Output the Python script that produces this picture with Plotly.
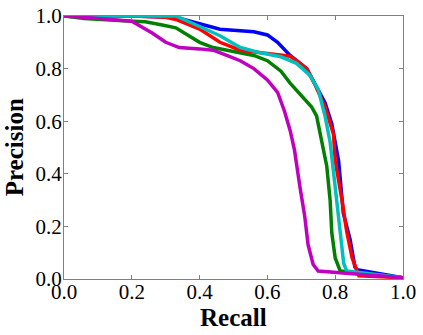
import plotly.graph_objects as go

# precision-recall curves
blue_recall = [0.0, 0.2, 0.33, 0.4, 0.46, 0.56, 0.6, 0.63, 0.667, 0.716, 0.745, 0.77, 0.79, 0.81, 0.824, 0.844, 0.858, 0.865, 1.0]
blue_prec = [1.0, 1.0, 0.995, 0.97, 0.95, 0.94, 0.928, 0.90, 0.85, 0.80, 0.73, 0.67, 0.59, 0.45, 0.25, 0.15, 0.046, 0.035, 0.005]

green_recall = [0.0, 0.06, 0.2, 0.24, 0.29, 0.33, 0.4, 0.44, 0.5, 0.56, 0.6, 0.64, 0.667, 0.696, 0.73, 0.745, 0.76, 0.775, 0.785, 0.79, 0.8, 0.815, 1.0]
green_prec = [1.0, 0.99, 0.98, 0.978, 0.966, 0.955, 0.90, 0.88, 0.865, 0.85, 0.83, 0.79, 0.745, 0.705, 0.655, 0.62, 0.53, 0.43, 0.30, 0.175, 0.08, 0.03, 0.005]

red_recall = [0.0, 0.2, 0.3, 0.33, 0.4, 0.46, 0.52, 0.58, 0.63, 0.667, 0.686, 0.716, 0.74, 0.77, 0.795, 0.80, 0.82, 0.834, 0.85, 0.858, 0.87, 1.0]
red_prec = [1.0, 1.0, 0.995, 0.987, 0.95, 0.90, 0.87, 0.86, 0.855, 0.847, 0.83, 0.80, 0.74, 0.655, 0.55, 0.45, 0.30, 0.18, 0.08, 0.05, 0.012, 0.005]

cyan_recall = [0.0, 0.2, 0.33, 0.4, 0.46, 0.52, 0.58, 0.64, 0.686, 0.725, 0.75, 0.77, 0.785, 0.80, 0.815, 0.825, 0.834, 1.0]
cyan_prec = [1.0, 1.0, 1.0, 0.96, 0.925, 0.88, 0.86, 0.845, 0.82, 0.775, 0.72, 0.62, 0.52, 0.35, 0.17, 0.06, 0.03, 0.005]

magenta_recall = [0.0, 0.06, 0.2, 0.22, 0.26, 0.3, 0.34, 0.4, 0.44, 0.48, 0.52, 0.56, 0.6, 0.63, 0.65, 0.667, 0.68, 0.696, 0.71, 0.72, 0.735, 0.75, 1.0]
magenta_prec = [1.0, 0.995, 0.98, 0.965, 0.935, 0.90, 0.88, 0.875, 0.87, 0.85, 0.83, 0.80, 0.757, 0.71, 0.64, 0.565, 0.49, 0.35, 0.24, 0.13, 0.055, 0.03, 0.005]

curves = [
    (blue_recall, blue_prec, "#0000FF"),
    (green_recall, green_prec, "#008000"),
    (red_recall, red_prec, "#FF0000"),
    (cyan_recall, cyan_prec, "#00BFBF"),
    (magenta_recall, magenta_prec, "#BF00BF"),
]

SERIF = "Liberation Serif, Times New Roman, DejaVu Serif, serif"

fig = go.Figure()
for rx, py, col in curves:
    fig.add_trace(go.Scatter(x=rx, y=py, mode="lines",
                             line=dict(color=col, width=3.5), showlegend=False))

ticks = [0.0, 0.2, 0.4, 0.6, 0.8, 1.0]
axis_style = dict(
    range=[0, 1], tickvals=ticks, ticktext=["%.1f" % t for t in ticks],
    ticks="inside", ticklen=4, tickcolor="#808080", mirror="ticks",
    showline=True, linecolor="#808080", linewidth=1, showgrid=False, zeroline=False,
    automargin=False,
    tickfont=dict(family=SERIF, size=21, color="black"),
)
fig.update_xaxes(**axis_style, ticklabelstandoff=-6)
fig.update_yaxes(**axis_style, ticklabelstandoff=-3)

# axis titles as annotations so they sit where the reference has them
title_font = dict(family=SERIF, size=25, color="black")
fig.add_annotation(text="<b>Recall</b>", xref="paper", yref="paper",
                   x=0.5, y=-0.145, xanchor="center", yanchor="middle",
                   showarrow=False, font=title_font)
fig.add_annotation(text="<b>Precision</b>", xref="paper", yref="paper",
                   x=-0.145, y=0.5, xanchor="center", yanchor="middle",
                   textangle=-90, showarrow=False, font=title_font)

fig.update_layout(
    width=423, height=335,
    margin=dict(l=64, r=20, t=16, b=56),
    plot_bgcolor="white", paper_bgcolor="white",
)

# the page's default body margin would push the figure 8px down and right
fig.write_html("out.html", config={"displayModeBar": False},
               post_script="document.body.style.margin='0';")
